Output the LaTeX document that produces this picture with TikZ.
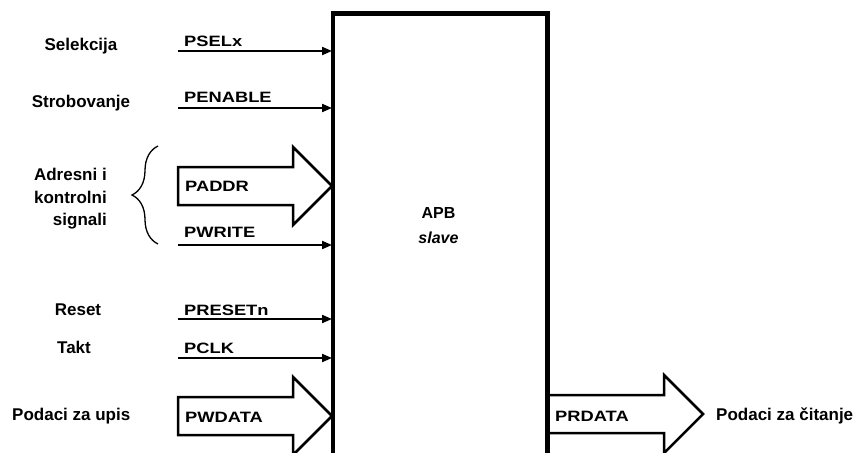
\documentclass[tikz,border=0pt]{standalone}
\usepackage{fontspec}
\setmainfont{Liberation Sans}
\usetikzlibrary{arrows.meta,decorations.pathreplacing}
\newcommand{\sigtxt}[1]{\scalebox{1.22}[1]{#1}}
\begin{document}
\begin{tikzpicture}[x=1pt,y=-1pt,
  lbl/.style={font=\fontsize{17}{20}\selectfont\bfseries, inner sep=0pt, anchor=base},
  sig/.style={font=\fontsize{15}{18}\selectfont\bfseries, inner sep=0pt, anchor=base west},
  sigline/.style={line width=2pt, -{Triangle[length=10pt,width=8pt]}},
  fat/.style={line width=2.5pt, line join=miter, fill=white},
  blk/.style={draw, line width=3pt, minimum width=213pt, minimum height=460pt, inner sep=0pt, anchor=north west}
]
\useasboundingbox (0,0) rectangle (866,452);
\clip (0,0) rectangle (866,452);

% block
\node[blk] (box) at (332,13) {};
\node[font=\fontsize{16}{25}\selectfont\bfseries, align=center, inner sep=0pt] (apb) at (438.5,226) {APB\\\textit{slave}};

% fat arrows
\coordinate (paddr) at (178,186);
\draw[fat] (paddr) ++(0,-19) -- ++(115,0) -- ++(0,-20) -- (paddr -| box.west) -- ++(-39,39) -- ++(0,-20) -- ++(-115,0) -- cycle;
\coordinate (pwdata) at (178,416);
\draw[fat] (pwdata) ++(0,-19) -- ++(115,0) -- ++(0,-20) -- (pwdata -| box.west) -- ++(-39,39) -- ++(0,-20) -- ++(-115,0) -- cycle;
\coordinate (prdata) at (box.east |- 0,414);
\draw[fat] (prdata) ++(0,-19) -- ++(116,0) -- ++(0,-20) -- ++(39,39) -- ++(-39,39) -- ++(0,-20) -- ++(-116,0);

% thin signals
\coordinate (s1) at (178,51);
\coordinate (s2) at (178,108);
\coordinate (s3) at (178,245);
\coordinate (s4) at (178,319);
\coordinate (s5) at (178,358);
\draw[sigline] (s1) -- (s1 -| box.west);
\draw[sigline] (s2) -- (s2 -| box.west);
\draw[sigline] (s3) -- (s3 -| box.west);
\draw[sigline] (s4) -- (s4 -| box.west);
\draw[sigline] (s5) -- (s5 -| box.west);

% redraw block border on top
\draw[line width=3pt] (box.north west) rectangle (box.south east);

% signal labels
\node[sig] (n1) at (184,47) {\sigtxt{PSELx}};
\node[sig] (n2) at (184,102) {\sigtxt{PENABLE}};
\node[sig] (n3) at (185,191) {\sigtxt{PADDR}};
\node[sig] (n4) at (184,237) {\sigtxt{PWRITE}};
\node[sig] (n5) at (184,315) {\sigtxt{PRESETn}};
\node[sig] (n6) at (184,353) {\sigtxt{PCLK}};
\node[sig] (n7) at (185,422) {\sigtxt{PWDATA}};
\node[sig] (n8) at (555,421) {\sigtxt{PRDATA}};

% left labels
\node[lbl] (l1) at (81,50) {Selekcija};
\node[lbl] (l2) at (81,107) {Strobovanje};
\node[lbl, anchor=base east] (l3a) at (107,180) {Adresni i};
\node[lbl, anchor=base east] (l3b) at (107,203) {kontrolni};
\node[lbl, anchor=base east] (l3c) at (107,225) {signali};
\node[lbl] (l4) at (78,315) {Reset};
\node[lbl] (l5) at (74,353) {Takt};
\node[lbl, anchor=base west] (l6) at (12,420) {Podaci za upis};
\node[lbl, anchor=base west] (l7) at (716,420) {Podaci za čitanje};

% brace
\draw[line width=1.3pt, decorate, decoration={brace, amplitude=26pt}] (158,244) -- (158,146);
\end{tikzpicture}
\end{document}
